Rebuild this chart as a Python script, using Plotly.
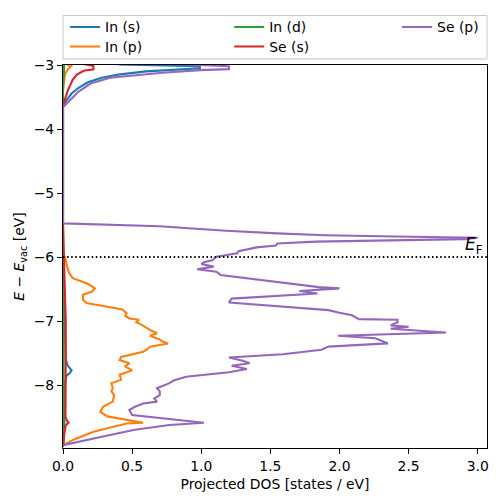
import plotly.graph_objects as go

# ---------------- data ----------------
fermi_level = -6.0

in_s_energy = [-2.99, -3.005, -3.02, -3.05, -3.07, -3.10, -3.15, -3.20, -3.27, -3.36, -3.45, -3.53, -3.60, -3.64,
               -5.50, -6.00, -6.50, -7.00, -7.30, -7.60, -7.70, -7.77, -7.81, -7.86, -7.95, -8.20, -8.50, -8.57,
               -8.62, -8.80, -8.96]
in_s_dos = [0.40, 0.80, 0.99, 0.99, 0.80, 0.60, 0.40, 0.28, 0.18, 0.11, 0.06, 0.03, 0.01, 0.0,
            0.0, 0.0, 0.006, 0.014, 0.016, 0.02, 0.035, 0.062, 0.05, 0.025, 0.016, 0.014, 0.012, 0.014,
            0.01, 0.005, 0.0]

in_p_energy = [-2.98, -3.00, -3.016, -3.067, -3.12, -3.18, -3.29, -3.40, -5.95, -6.00, -6.15, -6.25, -6.33,
               -6.41, -6.46, -6.49, -6.54, -6.59, -6.67, -6.72, -6.82, -6.88, -6.92, -6.96, -6.98, -7.02, -7.06,
               -7.10, -7.14, -7.19, -7.23, -7.29, -7.32, -7.35, -7.40, -7.44, -7.48, -7.56, -7.61, -7.66, -7.71,
               -7.77, -7.84, -7.92, -7.97, -8.05, -8.10, -8.16, -8.26, -8.34, -8.42, -8.49, -8.55, -8.59, -8.60,
               -8.66, -8.73, -8.85, -8.94]
in_p_dos = [0.03, 0.036, 0.06, 0.036, 0.02, 0.012, 0.005, 0.0, 0.0, 0.014, 0.03, 0.045, 0.07,
            0.17, 0.21, 0.23, 0.21, 0.145, 0.145, 0.17, 0.43, 0.46, 0.45, 0.48, 0.55, 0.53, 0.57,
            0.60, 0.63, 0.68, 0.63, 0.70, 0.72, 0.76, 0.63, 0.61, 0.58, 0.42, 0.41, 0.48, 0.45,
            0.50, 0.41, 0.42, 0.35, 0.36, 0.35, 0.37, 0.36, 0.29, 0.27, 0.32, 0.46, 0.58, 0.46,
            0.35, 0.22, 0.08, 0.0]

in_d_energy = [-2.98, -3.05, -3.20, -3.40, -5.50, -6.00, -7.00, -8.00, -8.60, -8.96]
in_d_dos = [0.006, 0.008, 0.004, 0.0, 0.0, 0.002, 0.004, 0.004, 0.005, 0.0]

se_s_energy = [-2.97, -3.00, -3.016, -3.067, -3.09, -3.15, -3.23, -3.39, -3.52, -3.63, -5.50, -5.90, -6.20,
               -6.60, -7.00, -7.40, -7.80, -8.20, -8.50, -8.56, -8.59, -8.63, -8.75, -8.90, -8.96]
se_s_dos = [0.12, 0.18, 0.22, 0.22, 0.15, 0.10, 0.07, 0.036, 0.014, 0.0, 0.0, 0.005, 0.012,
            0.018, 0.02, 0.02, 0.018, 0.016, 0.018, 0.03, 0.04, 0.02, 0.01, 0.004, 0.0]

se_p_energy = [-2.99, -3.01, -3.02, -3.065, -3.08, -3.12, -3.16, -3.20, -3.29, -3.42, -3.52, -3.60, -3.66,
               -5.474, -5.50, -5.52, -5.55, -5.59, -5.63, -5.66, -5.68, -5.70, -5.72, -5.74, -5.76, -5.79,
               -5.82, -5.85, -5.91, -5.94, -5.995, -6.05, -6.08, -6.11, -6.15, -6.19, -6.23, -6.28, -6.35,
               -6.41, -6.44, -6.47, -6.49, -6.53, -6.57, -6.62, -6.65, -6.71, -6.74, -6.78, -6.83, -6.87,
               -6.91, -6.97, -6.98, -7.02, -7.07, -7.09, -7.12, -7.18, -7.23, -7.27, -7.31, -7.35, -7.40,
               -7.45, -7.52, -7.57, -7.62, -7.66, -7.70, -7.75, -7.80, -7.84, -7.87, -7.93, -7.97, -8.05,
               -8.10, -8.16, -8.21, -8.26, -8.29, -8.34, -8.39, -8.47, -8.52, -8.56, -8.59, -8.625, -8.70,
               -8.78, -8.86, -8.94]
se_p_dos = [0.90, 1.15, 1.20, 1.20, 0.99, 0.72, 0.50, 0.34, 0.20, 0.11, 0.065, 0.03, 0.0,
            0.0, 0.45, 0.70, 0.91, 1.18, 1.55, 1.90, 2.40, 3.00, 2.91, 2.30, 1.83, 1.55,
            1.54, 1.40, 1.27, 1.26, 1.11, 1.08, 1.02, 1.00, 1.09, 0.97, 1.11, 1.14, 1.40,
            1.63, 1.71, 1.85, 2.00, 1.71, 1.84, 1.50, 1.22, 1.20, 1.40, 1.63, 1.92, 2.00,
            2.09, 2.14, 2.42, 2.42, 2.37, 2.50, 2.37, 2.77, 1.99, 2.26, 2.30, 2.35, 1.92,
            1.87, 1.59, 1.20, 1.30, 1.35, 1.22, 1.33, 1.20, 1.00, 0.89, 0.80, 0.77, 0.68,
            0.70, 0.70, 0.66, 0.68, 0.58, 0.52, 0.48, 0.50, 0.70, 0.90, 1.02, 0.77, 0.52,
            0.34, 0.17, 0.0]

series_names = ["In (s)", "In (p)", "In (d)", "Se (s)", "Se (p)"]
series_energy = [in_s_energy, in_p_energy, in_d_energy, se_s_energy, se_p_energy]
series_dos = [in_s_dos, in_p_dos, in_d_dos, se_s_dos, se_p_dos]
series_colors = ["#1f77b4", "#ff7f0e", "#2ca02c", "#d62728", "#9467bd"]
# legend grid position (column, row) of each entry, 3 columns filled column-wise
series_legend_col = [0, 0, 1, 1, 2]
series_legend_row = [0, 1, 0, 1, 0]

x_ticks = [0.0, 0.5, 1.0, 1.5, 2.0, 2.5, 3.0]
x_tick_labels = ["0.0", "0.5", "1.0", "1.5", "2.0", "2.5", "3.0"]
y_ticks = [-3, -4, -5, -6, -7, -8]
y_tick_labels = ["\u22123", "\u22124", "\u22125", "\u22126", "\u22127", "\u22128"]

FONT = "DejaVu Sans"
FS = 13.9

legend_col_x = [0.005, 0.392, 0.788]
legend_row_y = [1.0979, 1.0470]

fig = go.Figure()
legend_layouts = {}
for i, (name, e, d, c) in enumerate(zip(series_names, series_energy, series_dos, series_colors)):
    lg = "legend" if i == 0 else "legend%d" % (i + 1)
    fig.add_trace(go.Scatter(x=d, y=e, mode="lines", name=name, legend=lg,
                             line=dict(color=c, width=2.1)))
    legend_layouts[lg] = dict(orientation="v", bgcolor="rgba(0,0,0,0)", borderwidth=0,
                              font=dict(family=FONT, size=FS, color="black"),
                              xanchor="left", yanchor="middle",
                              x=legend_col_x[series_legend_col[i]],
                              y=legend_row_y[series_legend_row[i]])

fig.add_shape(type="line", xref="paper", yref="y", x0=0, x1=1, y0=fermi_level, y1=fermi_level,
              line=dict(color="black", width=2, dash="1.5px,2.6px"), layer="above")

fig.add_annotation(text="<i>E</i><sub>F</sub>", xref="paper", yref="y", x=1, y=fermi_level,
                   xanchor="right", yanchor="bottom", xshift=-2, yshift=-2, showarrow=False,
                   font=dict(family=FONT, size=17, color="black"))

# legend frame
fig.add_shape(type="rect", xref="paper", yref="paper", x0=0, x1=1, y0=1.0157, y1=1.1292,
              line=dict(color="#c8c8c8", width=1), fillcolor="rgba(0,0,0,0)", layer="above")

fig.update_layout(
    width=500, height=502,
    margin=dict(l=63, r=11, t=65, b=54),
    paper_bgcolor="white", plot_bgcolor="white",
    font=dict(family=FONT, size=FS, color="black"),
    showlegend=True,
    **legend_layouts,
    xaxis=dict(range=[0, 3.067], tickvals=x_ticks, ticktext=x_tick_labels,
               showline=True, linecolor="black", linewidth=1.1, mirror=True,
               ticks="outside", ticklen=5, tickwidth=1.1, tickcolor="black",
               showgrid=False, zeroline=False,
               title=dict(text="Projected DOS [states / eV]", font=dict(size=FS), standoff=6)),
    yaxis=dict(range=[-8.984, -3.0], tickvals=y_ticks, ticktext=y_tick_labels,
               showline=True, linecolor="black", linewidth=1.1, mirror=True,
               ticks="outside", ticklen=5, tickwidth=1.1, tickcolor="black",
               showgrid=False, zeroline=False,
               title=dict(text="<i>E</i> \u2212 <i>E</i><sub>vac</sub> [eV]", font=dict(size=FS), standoff=5)),
)

fig.write_html("out.html", config={"displayModeBar": False},
               post_script="document.body.style.margin='0px';")
